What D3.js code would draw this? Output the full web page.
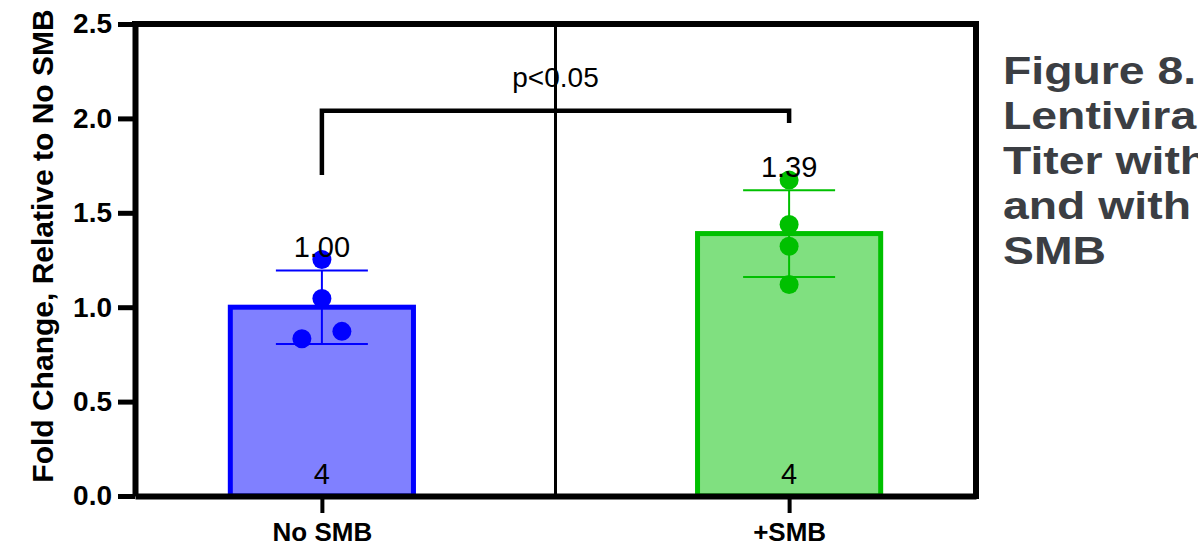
<!DOCTYPE html>
<html>
<head>
<meta charset="utf-8">
<script src="https://cdn.jsdelivr.net/npm/d3@7"></script>
<style>
  body { margin: 0; background: #fff; }
  svg { display: block; font-family: "Liberation Sans", Arial, sans-serif; }
</style>
</head>
<body>
<div id="chart"></div>
<script>
const groups = ["No SMB", "+SMB"];
const means = [1.00, 1.39];
const sds = [0.195, 0.23];
const counts = [4, 4];
const points = [
  [1.253, 1.046, 0.833, 0.872],
  [1.674, 1.438, 1.323, 1.120]
];
const jitter = [[0, 0, -20, 20], [0, 0, 0, 0]];
const yTicks = [0, 0.5, 1.0, 1.5, 2.0, 2.5];
const strokeColors = ["#0000ff", "#00c000"];
const fillColors = ["#8080ff", "#80e080"];
const bracket = { top: 2.04, left: 1.70, right: 1.975, label: "p<0.05" };
const titleLines = ["Figure 8.", "Lentiviral", "Titer without", "and with", "SMB"];

const width = 1198, height = 555;
const plotLeft = 135, plotRight = 976, plotTop = 24, plotBottom = 496;

const svg = d3.select("#chart").append("svg")
    .attr("width", width)
    .attr("height", height);

const x = d3.scalePoint()
    .domain(groups)
    .range([plotLeft, plotRight])
    .padding(0.4);

const y = d3.scaleLinear()
    .domain([0, 2.5])
    .range([plotBottom, plotTop]);

const barW = x.step() * 0.392;
const capW = 46;

// bars
svg.append("g")
  .selectAll("rect")
  .data(groups)
  .join("rect")
    .attr("x", d => x(d) - barW / 2)
    .attr("y", (d, i) => y(means[i]))
    .attr("width", barW)
    .attr("height", (d, i) => y(0) - y(means[i]))
    .attr("fill", (d, i) => fillColors[i])
    .attr("stroke", (d, i) => strokeColors[i])
    .attr("stroke-width", 5);

// middle divider
svg.append("line")
    .attr("x1", (x(groups[0]) + x(groups[1])) / 2)
    .attr("x2", (x(groups[0]) + x(groups[1])) / 2)
    .attr("y1", plotTop)
    .attr("y2", plotBottom)
    .attr("stroke", "#000")
    .attr("stroke-width", 3);

// error bars
const err = svg.append("g")
  .selectAll("g")
  .data(groups)
  .join("g")
    .attr("stroke", (d, i) => strokeColors[i])
    .attr("stroke-width", 2);

err.append("line")
    .attr("x1", d => x(d)).attr("x2", d => x(d))
    .attr("y1", (d, i) => y(means[i] + sds[i]))
    .attr("y2", (d, i) => y(means[i] - sds[i]));
err.append("line")
    .attr("x1", d => x(d) - capW).attr("x2", d => x(d) + capW)
    .attr("y1", (d, i) => y(means[i] + sds[i]))
    .attr("y2", (d, i) => y(means[i] + sds[i]));
err.append("line")
    .attr("x1", d => x(d) - capW).attr("x2", d => x(d) + capW)
    .attr("y1", (d, i) => y(means[i] - sds[i]))
    .attr("y2", (d, i) => y(means[i] - sds[i]));

// points
groups.forEach((g, i) => {
  svg.append("g")
    .selectAll("circle")
    .data(points[i])
    .join("circle")
      .attr("cx", (d, j) => x(g) + jitter[i][j])
      .attr("cy", d => y(d))
      .attr("r", 9.5)
      .attr("fill", strokeColors[i]);
});

// mean labels
svg.append("g")
  .selectAll("text")
  .data(groups)
  .join("text")
    .attr("x", d => x(d))
    .attr("y", (d, i) => y(means[i] + sds[i]) - 13)
    .attr("text-anchor", "middle")
    .attr("font-size", 29)
    .text((d, i) => d3.format(".2f")(means[i]));

// n labels
svg.append("g")
  .selectAll("text")
  .data(groups)
  .join("text")
    .attr("x", d => x(d))
    .attr("y", plotBottom - 12)
    .attr("text-anchor", "middle")
    .attr("font-size", 29)
    .text((d, i) => counts[i]);

// significance bracket
const bx0 = x(groups[0]), bx1 = x(groups[1]);
svg.append("path")
    .attr("d", `M${bx0},${y(bracket.left)}V${y(bracket.top)}H${bx1}V${y(bracket.right)}`)
    .attr("fill", "none")
    .attr("stroke", "#000")
    .attr("stroke-width", 4.5);
svg.append("text")
    .attr("x", (bx0 + bx1) / 2)
    .attr("y", y(bracket.top) - 24)
    .attr("text-anchor", "middle")
    .attr("font-size", 28)
    .text(bracket.label);

// axes
const yAxis = svg.append("g")
    .attr("transform", `translate(${plotLeft},0)`)
    .call(d3.axisLeft(y).tickValues(yTicks).tickFormat(d3.format(".1f"))
      .tickSize(17).tickSizeOuter(0).tickPadding(6));
yAxis.select(".domain").attr("stroke-width", 6);
yAxis.selectAll(".tick line").attr("stroke-width", 5);
yAxis.selectAll(".tick text")
    .attr("font-size", 28)
    .attr("font-weight", "bold")
    .attr("font-family", "Liberation Sans, Arial, sans-serif")
    .attr("fill", "#000");

const xAxis = svg.append("g")
    .attr("transform", `translate(0,${plotBottom})`)
    .call(d3.axisBottom(x).tickSize(17).tickSizeOuter(0).tickPadding(10));
xAxis.select(".domain").attr("stroke-width", 6);
xAxis.selectAll(".tick line").attr("stroke-width", 4);
xAxis.selectAll(".tick text")
    .attr("font-size", 26)
    .attr("font-weight", "bold")
    .attr("font-family", "Liberation Sans, Arial, sans-serif")
    .attr("fill", "#000");

// frame top and right
svg.append("path")
    .attr("d", `M${plotLeft - 3},${plotTop}H${plotRight}V${plotBottom + 3}`)
    .attr("fill", "none")
    .attr("stroke", "#000")
    .attr("stroke-width", 6);

// y axis title
svg.append("text")
    .attr("transform", `translate(53,246) rotate(-90)`)
    .attr("text-anchor", "middle")
    .attr("font-size", 30)
    .attr("font-weight", "bold")
    .text("Fold Change, Relative to No SMB");

// figure caption on the right (wide bold face, runs off the edge like the original)
svg.append("text")
    .attr("transform", "translate(1003,0) scale(1.22,1)")
    .attr("font-size", 38)
    .attr("font-weight", "bold")
    .attr("fill", "#3b3e43")
  .selectAll("tspan")
  .data(titleLines)
  .join("tspan")
    .attr("x", 0)
    .attr("y", (d, i) => 84 + i * 45)
    .text(d => d);
</script>
</body>
</html>
